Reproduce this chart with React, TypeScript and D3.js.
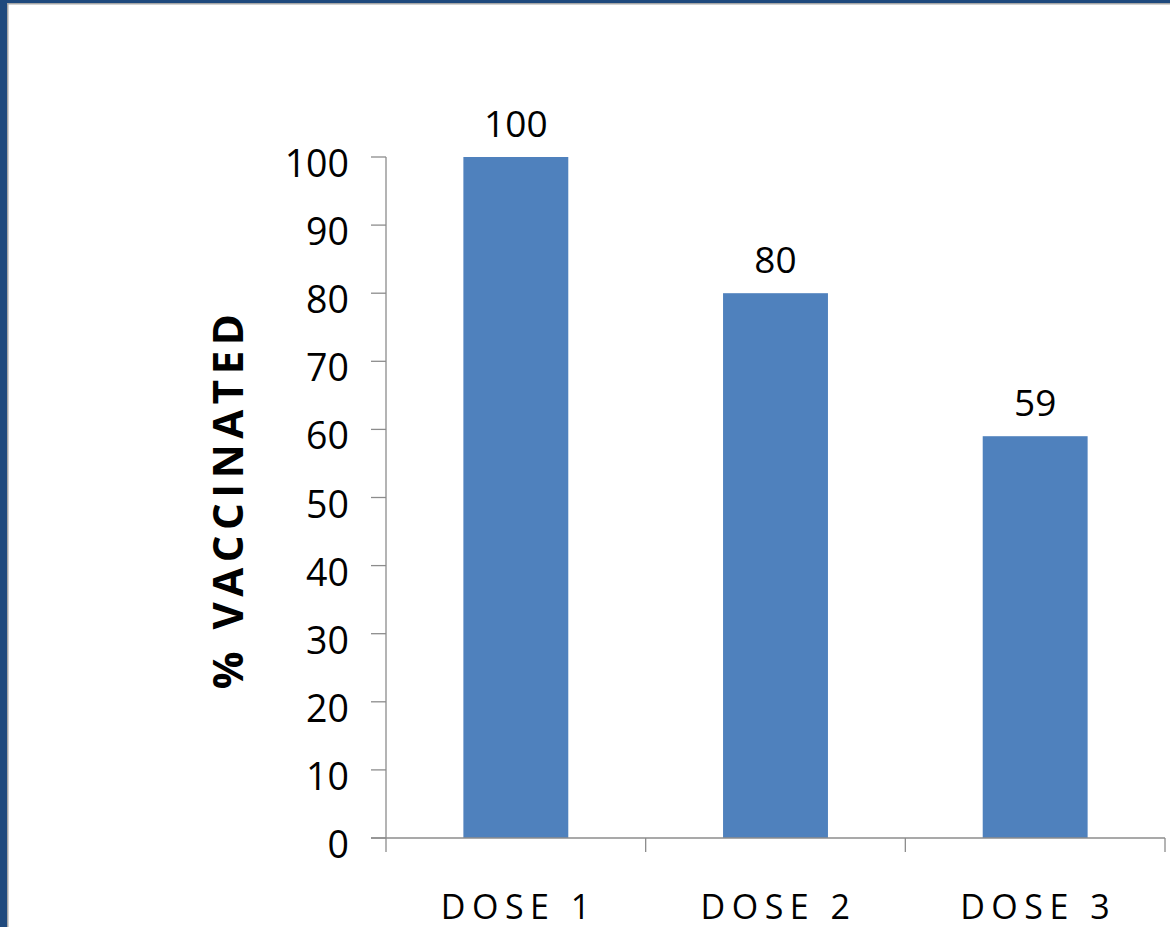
import React from "react";
import * as d3 from "d3";

const categories = ["DOSE 1", "DOSE 2", "DOSE 3"];
const values = [100, 80, 59];
const yTicks = [0, 10, 20, 30, 40, 50, 60, 70, 80, 90, 100];

const W = 1170;
const H = 927;
const FONT = "'Open Sans', 'Noto Sans', sans-serif";

export default function App() {
  const x = d3.scaleBand<string>().domain(categories).range([386, 1165]).paddingInner(0).paddingOuter(0);
  const y = d3.scaleLinear().domain([0, 100]).range([838, 157]);
  const barW = x.bandwidth() * 0.404;
  const axisColor = "#8c8c8c";
  const edges = [...categories.map((c) => x(c) as number), 1165];

  return (
    <svg width={W} height={H} style={{ position: "absolute", left: 0, top: 0 }} fontFamily={FONT}>
      <rect x={0} y={0} width={W} height={H} fill="#ffffff" />
      {/* frame */}
      <rect x={0} y={0} width={W} height={3} fill="#1f497d" />
      <rect x={0} y={0} width={7} height={H} fill="#1f497d" />
      <rect x={7} y={3} width={W - 7} height={1.5} fill="#a6a6a6" />
      <rect x={7} y={3} width={1.5} height={H - 3} fill="#a6a6a6" />

      {/* bars */}
      {categories.map((c, i) => {
        const cx = (x(c) as number) + x.bandwidth() / 2;
        return (
          <g key={c}>
            <rect x={cx - barW / 2} y={y(values[i])} width={barW} height={y(0) - y(values[i])} fill="#4f81bd" />
            <text x={cx} y={y(values[i]) - 20} textAnchor="middle" fontSize={37} fill="#000">
              {values[i]}
            </text>
          </g>
        );
      })}

      {/* y axis */}
      <line x1={386} x2={386} y1={y(100)} y2={y(0)} stroke={axisColor} strokeWidth={1.3} />
      {yTicks.map((t) => (
        <g key={t}>
          <line x1={371} x2={386} y1={y(t)} y2={y(t)} stroke={axisColor} strokeWidth={1.3} />
          <text x={349} y={y(t) + 20} textAnchor="end" fontSize={37.5} fill="#000">
            {t}
          </text>
        </g>
      ))}

      {/* x axis */}
      <line x1={371} x2={1165} y1={y(0)} y2={y(0)} stroke={axisColor} strokeWidth={1.3} />
      {edges.map((e, i) => (
        <line key={i} x1={e} x2={e} y1={y(0)} y2={852} stroke={axisColor} strokeWidth={1.3} />
      ))}
      {categories.map((c) => (
        <text
          key={c}
          x={(x(c) as number) + x.bandwidth() / 2 + 3}
          y={919}
          textAnchor="middle"
          fontSize={34}
          letterSpacing={6.5}
          fill="#000"
        >
          {c}
        </text>
      ))}

      {/* y title */}
      <text
        transform={`translate(243, 499) rotate(-90)`}
        textAnchor="middle"
        fontSize={42}
        fontWeight="bold"
        letterSpacing={5.5}
        fill="#000"
      >
        % VACCINATED
      </text>
    </svg>
  );
}
